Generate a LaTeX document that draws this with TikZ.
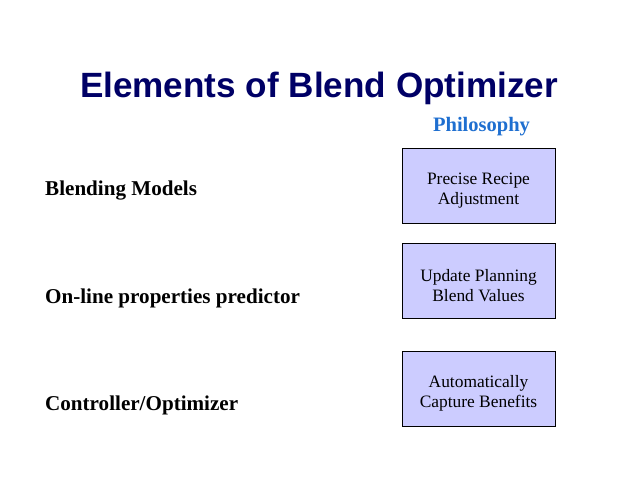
\documentclass[tikz,border=0pt]{standalone}
\usepackage{fontspec}
\setmainfont{Liberation Serif}
\newfontfamily\headfont{Liberation Sans}
\usetikzlibrary{positioning}
\definecolor{titlenavy}{HTML}{000066}
\definecolor{philblue}{HTML}{1F6FD0}
\definecolor{boxlilac}{HTML}{CCCCFF}
\tikzstyle{block}=[
   rectangle,
   draw=black,
   line width=0.8pt,
   fill=boxlilac,
   align=center,
   font=\fontsize{17.4}{20}\selectfont,
   text height=41pt,
   minimum width=153pt,
   minimum height=75pt,
   inner sep=0pt
]
\tikzstyle{element}=[
   anchor=base west,
   inner sep=0pt,
   font=\fontsize{21.1}{24}\selectfont\bfseries
]

\begin{document}
\begin{tikzpicture}[x=1pt,y=-1pt,node distance=20pt]
  \useasboundingbox (0,0) rectangle (638,479);

  \node[anchor=base,inner sep=0pt,text=titlenavy,font=\headfont\fontsize{35.1}{40}\selectfont\bfseries]
        (title) at (319,97) {Elements of Blend Optimizer};
  \node[anchor=base,inner sep=0pt,text=philblue,font=\fontsize{20.5}{24}\selectfont\bfseries]
        (phil) at (481.5,131) {Philosophy};

  \node[block]   (pra) at (478.5,185.5)     {Precise Recipe\\Adjustment};
  \node[block]   (upb) [below=of pra]       {Update Planning\\Blend Values};
  \node[block]   (acb) [below=32pt of upb]  {Automatically\\Capture Benefits};

  \node[element] (bm)  at (45,195) {Blending Models};
  \node[element] (olp) at (45,303) {On-line properties predictor};
  \node[element] (co)  at (45,410) {Controller/Optimizer};

\end{tikzpicture}
\end{document}
